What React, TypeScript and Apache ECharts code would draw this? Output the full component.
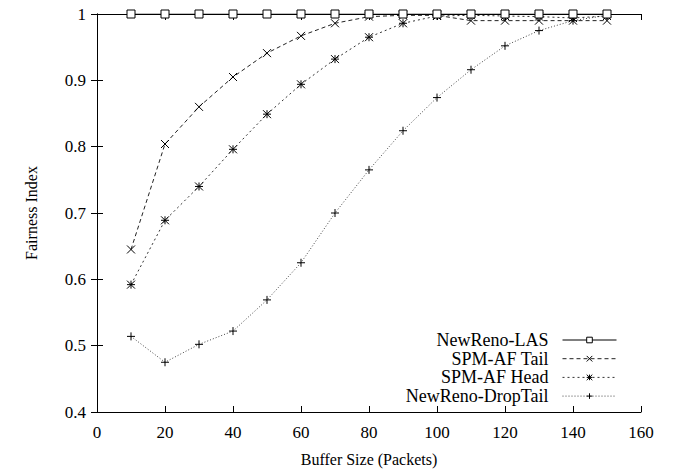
import React, { useEffect, useRef } from "react";
import * as echarts from "echarts";

const bufferSizes = [10, 20, 30, 40, 50, 60, 70, 80, 90, 100, 110, 120, 130, 140, 150];
const newRenoLAS = [1, 1, 1, 1, 1, 1, 1, 1, 1, 1, 1, 1, 1, 1, 1];
const spmAfTail = [0.645, 0.804, 0.860, 0.905, 0.941, 0.967, 0.986, 0.996, 0.998, 0.998, 0.990, 0.990, 0.990, 0.990, 0.990];
const spmAfHead = [0.592, 0.689, 0.740, 0.796, 0.849, 0.894, 0.932, 0.965, 0.986, 0.997, 0.998, 0.997, 0.996, 0.994, 0.997];
const newRenoDropTail = [0.514, 0.475, 0.502, 0.522, 0.569, 0.625, 0.700, 0.765, 0.824, 0.874, 0.916, 0.952, 0.975, 0.990, 0.998];
const seriesNames = ["NewReno-LAS", "SPM-AF Tail", "SPM-AF Head", "NewReno-DropTail"];

const FONT = "Liberation Serif";
const SYM_X = "path://M0,0L10,10M10,0L0,10";
const SYM_PLUS = "path://M5,0L5,10M0,5L10,5";
const SYM_STAR = "path://M0,0L10,10M10,0L0,10M5,0L5,10M0,5L10,5";

export default function App() {
  const ref = useRef<HTMLDivElement>(null);
  useEffect(() => {
    if (!ref.current) return;
    const chart = echarts.init(ref.current, undefined, { renderer: "svg" });
    const pairs = (vals: number[]) => bufferSizes.map((x, i) => [x, vals[i]]);
    const mk = (name: string, vals: number[], symbol: string, fill: string, lineType: any, color: string, z: number) => ({
      name,
      type: "line",
      data: pairs(vals),
      symbol,
      symbolSize: 8,
      showSymbol: true,
      z,
      lineStyle: { color, width: 1, type: lineType },
      itemStyle: { color: fill, borderColor: "#000", borderWidth: 1 },
      emphasis: { disabled: true },
    });
    const legends = seriesNames.map((n, i) => ({
      data: [n],
      right: 56,
      top: 331 + i * 18.7,
      align: "right",
      orient: "vertical",
      itemWidth: 54,
      itemHeight: 7,
      selectedMode: false,
      padding: 0,
      lineStyle: { width: 1 },
      itemStyle: { borderWidth: 1 },
      textStyle: { fontFamily: FONT, fontSize: 18, color: "#000", padding: [0, 9, 0, 0] },
    }));
    const labelStyle = { fontFamily: FONT, fontSize: 17, color: "#000", fontWeight: "normal" };
    const nameStyle = { fontFamily: FONT, fontSize: 16, color: "#000", fontWeight: "normal" };
    const axisCommon = {
      min: 0,
      max: 160,
      interval: 20,
      axisLine: { lineStyle: { color: "#000", width: 1 } },
      axisTick: { inside: true, length: 6, lineStyle: { color: "#000" } },
      splitLine: { show: false },
    };
    chart.setOption({
      animation: false,
      backgroundColor: "#fff",
      textStyle: { fontFamily: FONT, fontSize: 17 },
      grid: { left: 97, right: 32, top: 14, bottom: 57, outerBoundsMode: "none", containLabel: false },
      legend: legends,
      xAxis: [
        {
          type: "value",
          ...axisCommon,
          name: "Buffer Size (Packets)",
          nameLocation: "middle",
          nameGap: 39,
          nameTextStyle: nameStyle,
          axisLabel: { ...labelStyle, margin: 12 },
        },
        {
          type: "value",
          position: "top",
          ...axisCommon,
          axisLabel: { show: false },
        },
      ],
      yAxis: [
        {
          type: "value",
          min: 0.4,
          max: 1,
          interval: 0.1,
          axisLine: { show: true, lineStyle: { color: "#000", width: 1 } },
          axisTick: { show: true, inside: true, length: 6, lineStyle: { color: "#000" } },
          splitLine: { show: false },
          name: "Fairness Index",
          nameLocation: "middle",
          nameGap: 58,
          nameTextStyle: nameStyle,
          axisLabel: { ...labelStyle, margin: 11 },
        },
        {
          type: "value",
          position: "right",
          min: 0.4,
          max: 1,
          interval: 0.1,
          axisLine: { show: true, lineStyle: { color: "#000", width: 1 } },
          axisTick: { show: true, inside: true, length: 6, lineStyle: { color: "#000" } },
          splitLine: { show: false },
          axisLabel: { show: false },
        },
      ],
      series: [
        mk(seriesNames[3], newRenoDropTail, SYM_PLUS, "#000", [1, 2], "#444", 2),
        mk(seriesNames[2], spmAfHead, SYM_STAR, "#000", [2, 3], "#333", 3),
        mk(seriesNames[1], spmAfTail, SYM_X, "#000", [4, 3], "#222", 4),
        mk(seriesNames[0], newRenoLAS, "rect", "#fff", "solid", "#000", 5),
      ],
    });
    return () => chart.dispose();
  }, []);
  return (
    <div
      ref={ref}
      style={{ position: "fixed", left: 0, top: 0, width: 673, height: 469, background: "#fff" }}
    />
  );
}
